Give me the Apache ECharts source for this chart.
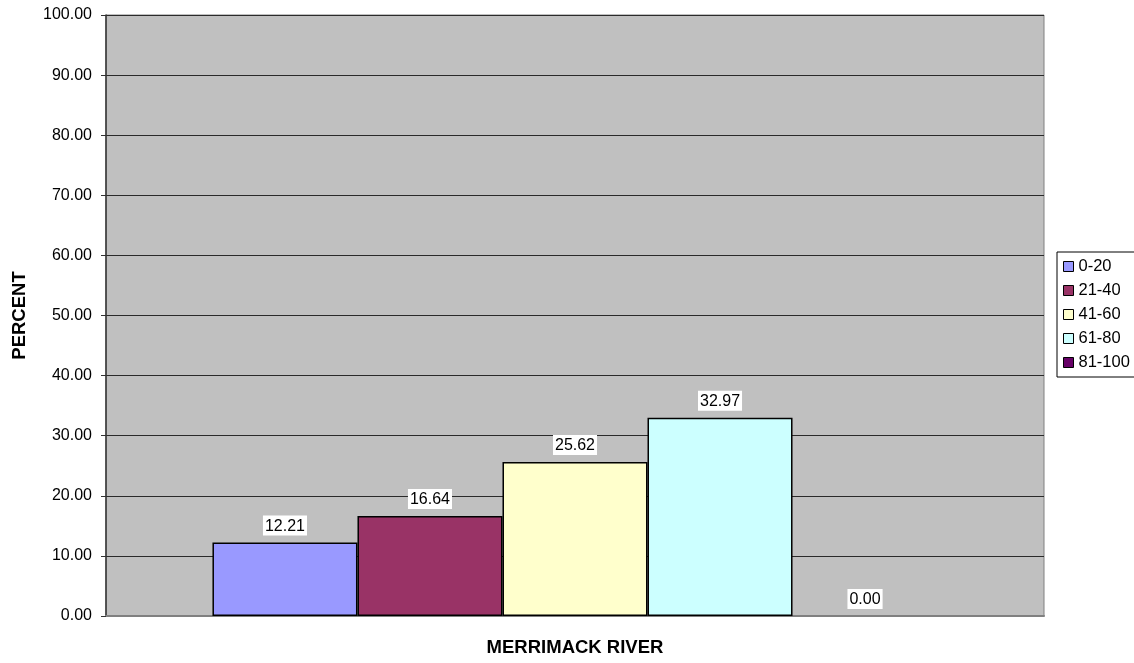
<!DOCTYPE html>
<html>
<head>
<meta charset="utf-8">
<script src="https://cdn.jsdelivr.net/npm/echarts@6/dist/echarts.min.js"></script>
<style>
  html, body { margin: 0; padding: 0; background: #fff; }
  #chart { width: 1134px; height: 663px; }
</style>
</head>
<body>
<div id="chart"></div>
<script>
// Share of river miles per score band
const categories = ['MERRIMACK RIVER'];
const bandNames = ['0-20', '21-40', '41-60', '61-80', '81-100'];
const bandValues = [12.21, 16.64, 25.62, 32.97, 0.00];
const bandColors = ['#9999FF', '#993366', '#FFFFCC', '#CCFFFF', '#660066'];
const yTicks = { min: 0, max: 100, interval: 10 };

const FONT = '"Liberation Sans", Arial, sans-serif';

const chart = echarts.init(document.getElementById('chart'));

const series = bandNames.map((name, i) => ({
  name: name,
  type: 'bar',
  // an empty band gets no outline, so only its label shows
  data: [{ value: bandValues[i], itemStyle: bandValues[i] === 0 ? { borderWidth: 0 } : {} }],
  barGap: '0%',
  barCategoryGap: '22.7%',
  itemStyle: { color: bandColors[i], borderColor: '#000', borderWidth: 1.5 },
  label: {
    show: true,
    position: 'top',
    distance: 7,
    color: '#000',
    fontFamily: FONT,
    fontSize: 16,
    lineHeight: 16,
    backgroundColor: '#fff',
    padding: [3, 2, 1, 2],
    formatter: p => p.value.toFixed(2)
  },
  emphasis: { disabled: true }
}));

chart.setOption({
  animation: false,
  textStyle: { fontFamily: FONT },
  grid: {
    left: 106, top: 15, right: 90, bottom: 47,
    show: true,
    backgroundColor: '#C0C0C0',
    borderColor: '#808080',
    borderWidth: 1
  },
  legend: {
    orient: 'vertical',
    left: 1057,
    top: 252,
    data: bandNames,
    icon: 'rect',
    itemWidth: 10,
    itemHeight: 10,
    itemGap: 7,
    padding: [6, 20, 6, 6],
    borderColor: '#000',
    borderWidth: 1,
    backgroundColor: '#fff',
    textStyle: { fontFamily: FONT, fontSize: 16.5, lineHeight: 17, color: '#000', padding: [0, 0, 0, 0] },
    itemStyle: { borderColor: '#000', borderWidth: 1 }
  },
  xAxis: {
    type: 'category',
    data: categories,
    name: categories[0],
    nameLocation: 'middle',
    nameGap: 22,
    nameTextStyle: { fontFamily: FONT, fontSize: 18.5, fontWeight: 'bold', color: '#000' },
    axisLabel: { show: false },
    axisTick: { show: false },
    axisLine: { lineStyle: { color: '#808080', width: 2 } }
  },
  yAxis: {
    type: 'value',
    min: yTicks.min,
    max: yTicks.max,
    interval: yTicks.interval,
    name: 'PERCENT',
    nameLocation: 'middle',
    nameGap: 77,
    nameTextStyle: { fontFamily: FONT, fontSize: 18.5, fontWeight: 'bold', color: '#000' },
    axisLine: { show: true, lineStyle: { color: '#333', width: 1.5 } },
    axisTick: { show: true, length: 5, lineStyle: { color: '#333' } },
    axisLabel: {
      color: '#000', fontFamily: FONT, fontSize: 16, margin: 14,
      formatter: v => v.toFixed(2)
    },
    splitLine: { show: true, lineStyle: { color: '#2a2a2a', width: 1 } }
  },
  series: series
});
</script>
</body>
</html>
